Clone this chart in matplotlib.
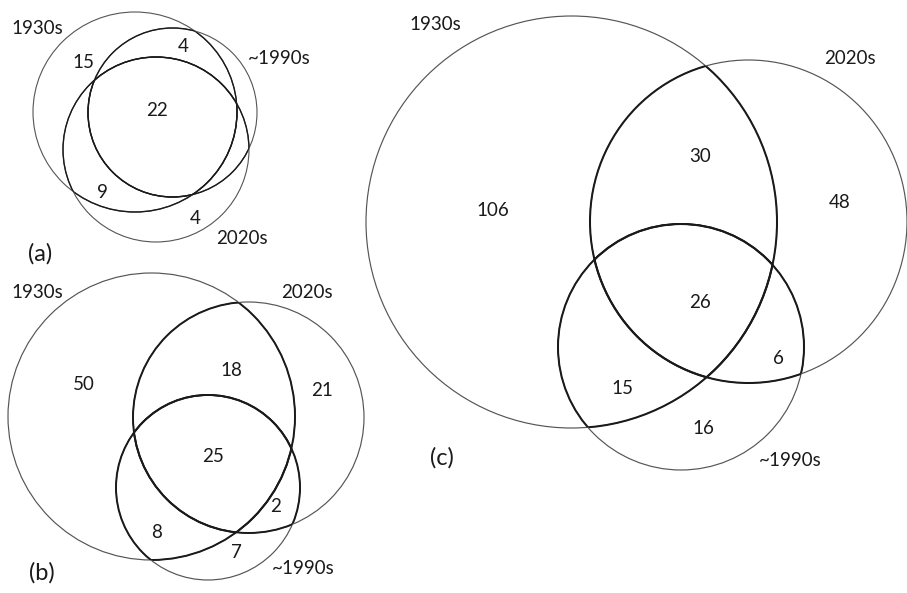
import matplotlib.pyplot as plt
from matplotlib.patches import Ellipse

plt.rcParams['font.family'] = ['Lato', 'DejaVu Sans']

set_names = ['1930s', '~1990s', '2020s']
panel_tags = ['(a)', '(b)', '(c)']

# counts in each region of the three diagrams
regions_a = ['1930s only', '1930s & ~1990s', 'all three', '1930s & 2020s', '2020s only']
counts_a = [15, 4, 22, 9, 4]

regions_b = ['1930s only', '1930s & 2020s', '2020s only', 'all three',
             '~1990s & 2020s', '1930s & ~1990s', '~1990s only']
counts_b = [50, 18, 21, 25, 2, 8, 7]

regions_c = ['1930s only', '1930s & 2020s', '2020s only', 'all three',
             '~1990s & 2020s', '1930s & ~1990s', '~1990s only']
counts_c = [106, 30, 48, 26, 6, 15, 16]

# layout, in pixels of the 907x593 picture (y downwards)
layout = [
    dict(counts=counts_a,
         shapes=[(135, 112, 204, 200), (172.5, 112.5, 169, 169), (156, 149.5, 186, 185)],
         names_xy=[(37, 29), (279, 59), (242, 238)],
         counts_xy=[(83, 62), (183, 47), (157, 110), (102, 193), (195, 218)],
         tag_xy=(40, 254), lw=(0.8, 1.0)),
    dict(counts=counts_b,
         shapes=[(151.5, 416.5, 287, 287), (208, 487.5, 184, 185), (248.5, 417.5, 231, 231)],
         names_xy=[(37, 292), (303, 568), (307, 293)],
         counts_xy=[(84, 385), (231, 370), (322, 390), (213, 457), (276, 507), (157, 532), (236, 552)],
         tag_xy=(42, 573), lw=(0.85, 1.4)),
    dict(counts=counts_c,
         shapes=[(571.5, 222, 411, 412), (681, 347, 246, 246), (748.5, 221.5, 317, 323)],
         names_xy=[(435, 25), (790, 460), (850, 58)],
         counts_xy=[(493, 210), (700, 157), (840, 203), (700, 303), (778, 358), (622, 388), (703, 428)],
         tag_xy=(442, 458), lw=(0.85, 1.45)),
]

fig = plt.figure(figsize=(9.07, 5.93), dpi=100)
ax = fig.add_axes([0, 0, 1, 1])
ax.set_xlim(0, 907)
ax.set_ylim(593, 0)
ax.axis('off')

for tag, p in zip(panel_tags, layout):
    thin, thick = p['lw']
    for i, (cx, cy, w, h) in enumerate(p['shapes']):
        # outer arcs: thin grey
        ax.add_patch(Ellipse((cx, cy), w, h, fill=False, lw=thin, ec='#555555'))
        # arcs lying inside another set: darker and heavier
        for j, (ox, oy, ow, oh) in enumerate(p['shapes']):
            if i == j:
                continue
            clip = Ellipse((ox, oy), ow, oh, transform=ax.transData)
            e = Ellipse((cx, cy), w, h, fill=False, lw=thick, ec='#1a1a1a')
            ax.add_patch(e)
            e.set_clip_path(clip)
    for name, (x, y) in zip(set_names, p['names_xy']):
        ax.text(x, y, name, fontsize=13.5, ha='center', va='center', color='#1a1a1a')
    for n, (x, y) in zip(p['counts'], p['counts_xy']):
        ax.text(x, y, str(n), fontsize=13.5, ha='center', va='center', color='#1a1a1a')
    ax.text(p['tag_xy'][0], p['tag_xy'][1], tag, fontsize=17, ha='center', va='center', color='#1a1a1a')

fig.savefig('out.png', dpi=100, facecolor='white')
